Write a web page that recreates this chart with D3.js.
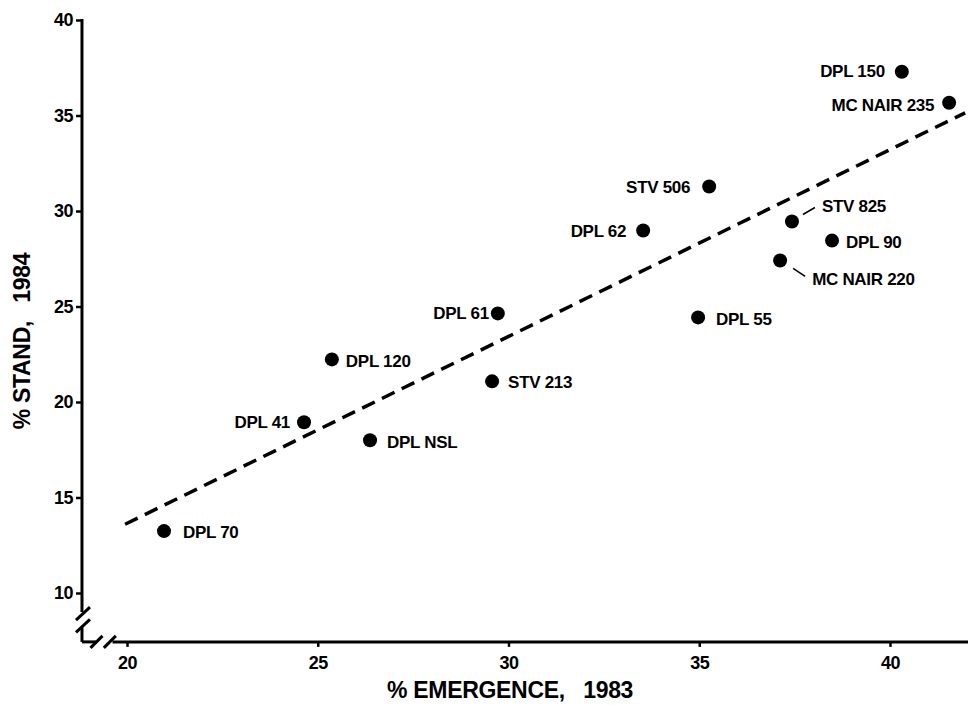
<!DOCTYPE html>
<html>
<head>
<meta charset="utf-8">
<script src="https://cdn.jsdelivr.net/npm/d3@7"></script>
<style>
  html, body { margin: 0; padding: 0; background: #fff; }
  svg { display: block; }
  text { font-family: "Liberation Sans", Arial, Helvetica, sans-serif; font-weight: bold; fill: #000; }
</style>
</head>
<body>
<svg id="chart"></svg>
<script>
// cultivar names and values
const cultivars = ['DPL 70', 'DPL 41', 'DPL 120', 'DPL NSL', 'DPL 61', 'STV 213', 'DPL 62',
  'STV 506', 'DPL 55', 'MC NAIR 220', 'STV 825', 'DPL 90', 'DPL 150', 'MC NAIR 235'];
const emergence1983 = [20.97, 24.64, 25.37, 26.37, 29.72, 29.57, 33.53,
  35.26, 34.97, 37.12, 37.43, 38.48, 40.31, 41.55];
const stand1984 = [13.24, 18.94, 22.23, 18.0, 24.64, 21.08, 28.98,
  31.28, 24.43, 27.41, 29.45, 28.45, 37.29, 35.67];

// fitted line end points
const fitX = [19.95, 41.97];
const fitY = [13.6, 35.14];

const xTicks = [20, 25, 30, 35, 40];
const yTicks = [10, 15, 20, 25, 30, 35, 40];

const W = 971, H = 705;

const svg = d3.select('#chart')
  .attr('width', W)
  .attr('height', H);

const x = d3.scaleLinear().domain([20, 40]).range([127, 890]);
const y = d3.scaleLinear().domain([10, 40]).range([593, 20]);

// where the two axes meet (below 10 / left of 20, axis is broken)
const x0 = x(18.82);
const y0 = y(7.44);

// y axis
const yAxis = svg.append('g')
  .attr('transform', `translate(${x0},0)`)
  .call(d3.axisLeft(y).tickValues(yTicks).tickSize(6).tickPadding(3));
yAxis.select('.domain').remove();
yAxis.selectAll('.tick line').attr('stroke', '#000').attr('stroke-width', 2.5);
yAxis.selectAll('.tick text').attr('font-size', 18).attr('font-family', null)
  .attr('letter-spacing', -0.5);

// x axis
const xAxis = svg.append('g')
  .attr('transform', `translate(0,${y0})`)
  .call(d3.axisBottom(x).tickValues(xTicks).tickSize(5).tickPadding(9));
xAxis.select('.domain').remove();
xAxis.selectAll('.tick line').attr('stroke', '#000').attr('stroke-width', 2.5);
xAxis.selectAll('.tick text').attr('font-size', 18).attr('font-family', null)
  .attr('letter-spacing', -0.5);

// axis lines with break marks
const axisG = svg.append('g')
  .attr('stroke', '#000')
  .attr('stroke-width', 3)
  .attr('fill', 'none');

axisG.append('line')
  .attr('x1', x0).attr('x2', x0)
  .attr('y1', y(40) - 1).attr('y2', y(9.0));
axisG.append('line')
  .attr('x1', x0).attr('x2', x0)
  .attr('y1', y(8.2)).attr('y2', y0);

axisG.append('line')
  .attr('x1', x0).attr('x2', x(19.2))
  .attr('y1', y0).attr('y2', y0);
axisG.append('line')
  .attr('x1', x(19.62)).attr('x2', 968)
  .attr('y1', y0).attr('y2', y0);

// slashes on the y axis
[y(8.95), y(8.3)].forEach(py => {
  axisG.append('line')
    .attr('x1', x0 - 6).attr('y1', py + 7)
    .attr('x2', x0 + 8).attr('y2', py - 6);
});
// slashes on the x axis
[x(19.2), x(19.55)].forEach(px => {
  axisG.append('line')
    .attr('x1', px - 6).attr('y1', y0 + 6)
    .attr('x2', px + 6).attr('y2', y0 - 6);
});

// fitted dashed line
svg.append('line')
  .attr('x1', x(fitX[0])).attr('y1', y(fitY[0]))
  .attr('x2', x(fitX[1])).attr('y2', y(fitY[1]))
  .attr('stroke', '#000')
  .attr('stroke-width', 3.5)
  .attr('stroke-dasharray', '14,8');

const points = cultivars.map((name, i) => ({ name, ex: emergence1983[i], st: stand1984[i] }));

svg.selectAll('.dot')
  .data(points)
  .enter()
  .append('circle')
  .attr('class', 'dot')
  .attr('cx', d => x(d.ex))
  .attr('cy', d => y(d.st))
  .attr('r', 7)
  .attr('fill', '#000');

// label placement (dx, dy from the dot, anchor)
const labelPos = {
  'DPL 70': [19, 1, 'start'],
  'DPL 41': [-14, 0, 'end'],
  'DPL 120': [14, 1, 'start'],
  'DPL NSL': [17, 2, 'start'],
  'DPL 61': [-9, 0, 'end'],
  'STV 213': [16, 1, 'start'],
  'DPL 62': [-17, 0, 'end'],
  'STV 506': [-19, 0, 'end'],
  'DPL 55': [18, 1, 'start'],
  'MC NAIR 220': [32, 18, 'start'],
  'STV 825': [30, -16, 'start'],
  'DPL 90': [14, 1, 'start'],
  'DPL 150': [-17, -1, 'end'],
  'MC NAIR 235': [-15, 2, 'end']
};

svg.selectAll('.lbl')
  .data(points)
  .enter()
  .append('text')
  .attr('class', 'lbl')
  .attr('x', d => x(d.ex) + labelPos[d.name][0])
  .attr('y', d => y(d.st) + labelPos[d.name][1])
  .attr('dy', '0.36em')
  .attr('text-anchor', d => labelPos[d.name][2])
  .attr('font-size', 17)
  .attr('letter-spacing', -0.3)
  .text(d => d.name);

// leader lines for the two crowded labels
const leaders = { 'STV 825': [11, -7, 23, -14], 'MC NAIR 220': [13, 8, 25, 16] };
svg.selectAll('.leader')
  .data(points.filter(d => leaders[d.name]))
  .enter()
  .append('line')
  .attr('x1', d => x(d.ex) + leaders[d.name][0])
  .attr('y1', d => y(d.st) + leaders[d.name][1])
  .attr('x2', d => x(d.ex) + leaders[d.name][2])
  .attr('y2', d => y(d.st) + leaders[d.name][3])
  .attr('stroke', '#000')
  .attr('stroke-width', 1.5);

// axis titles
svg.append('text')
  .attr('x', 387)
  .attr('y', 698)
  .attr('font-size', 23)
  .attr('letter-spacing', -0.3)
  .style('white-space', 'pre')
  .text('% EMERGENCE,   1983');

svg.append('text')
  .attr('transform', 'translate(30,341) rotate(-90)')
  .attr('text-anchor', 'middle')
  .attr('font-size', 23)
  .attr('letter-spacing', -0.3)
  .style('white-space', 'pre')
  .text('% STAND,   1984');
</script>
</body>
</html>
